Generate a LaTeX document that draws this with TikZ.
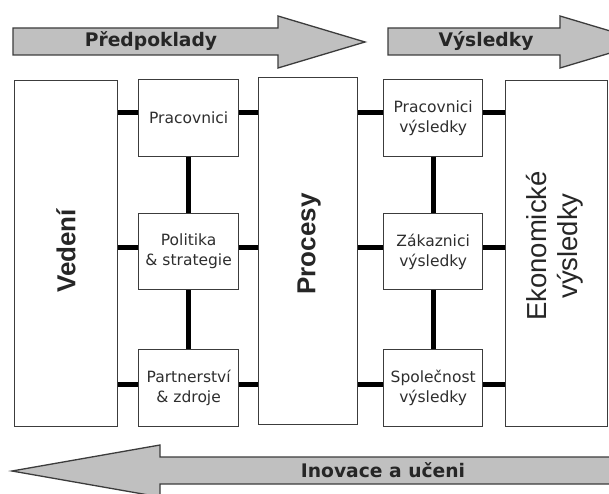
\documentclass[tikz,border=0pt]{standalone}
\usepackage{fontspec}
\setmainfont{DejaVu Sans}
\newfontfamily\arialf{Liberation Sans}
\definecolor{boxline}{HTML}{3C3C3C}
\definecolor{arrowfill}{HTML}{C0C0C0}
\definecolor{txtgray}{HTML}{2E2E2E}
\begin{document}
\begin{tikzpicture}[x=1pt,y=-1pt,
  box/.style={draw=boxline, line width=1.3pt, fill=white, inner sep=0pt, anchor=north west},
  bigbox/.style={box, minimum width=103pt, minimum height=346pt},
  smallbox/.style={box, minimum width=100pt, minimum height=77pt, align=center,
     text=txtgray, font=\fontsize{15.5}{20}\selectfont},
  link/.style={line width=5pt, black},
  bigarrow/.style={draw=boxline, line width=1.3pt, fill=arrowfill, line join=miter},
  arrowtext/.style={font=\bfseries\fontsize{18.7}{22}\selectfont, text=black!85},
  vlabel/.style={rotate=90, font=\arialf\bfseries\fontsize{26}{30}\selectfont, text=black!85}
]
\useasboundingbox (0,0) rectangle (609,494);
\fill[white] (0,0) rectangle (609,494);
\clip (0,0) rectangle (609,494);

% top arrows
\draw[bigarrow] (13,28) -- (278,28) -- (278,16) -- (365,42) -- (278,68) -- (278,55) -- (13,55) -- cycle;
\node[arrowtext] (pred) at (151,41) {Předpoklady};
\draw[bigarrow] (388,28) -- (560,28) -- (560,16) -- (647,42) -- (560,68) -- (560,55) -- (388,55) -- cycle;
\node[arrowtext] (vys) at (486,41) {Výsledky};

% bottom arrow
\draw[bigarrow] (640,457) -- (160,457) -- (160,445) -- (12,471) -- (160,497) -- (160,484) -- (640,484) -- cycle;
\node[arrowtext] (inov) at (383,470) {Inovace a učeni};

% big boxes
\node[bigbox] (ved) at (14,80) {};
\node[vlabel] (vedt) at (66,251) {Vedení};
\node[box, minimum width=99pt, minimum height=347pt] (proc) at (258,77) {};
\node[vlabel] (proct) at (309,244) {Procesy};
\node[bigbox, minimum width=102pt] (eko) at (505,80) {};
\node[rotate=90, align=center, font=\arialf\fontsize{27.5}{31}\selectfont, text=black!85] (ekot) at (555,246) {Ekonomické\\výsledky};

% left column
\node[smallbox] (prac) at (138,79) {Pracovnici};
\node[smallbox, minimum height=76pt] (pol) at (138,213) {Politika\\\& strategie};
\node[smallbox] (part) at (138,349) {Partnerství\\\& zdroje};

% right column
\node[smallbox, minimum width=99pt] (pvys) at (383,79) {Pracovnici\\výsledky};
\node[smallbox, minimum width=99pt, minimum height=76pt] (zak) at (383,213) {Zákaznici\\výsledky};
\node[smallbox, minimum width=99pt] (spol) at (383,349) {Společnost\\výsledky};

% horizontal links
\foreach \yy/\a/\b/\c/\d in {113/prac/pvys/x/x, 247/pol/zak/x/x, 384/part/spol/x/x}{
  \draw[link] (ved.east |- 0,\yy) -- (\a.west |- 0,\yy);
  \draw[link] (\a.east |- 0,\yy) -- (proc.west |- 0,\yy);
  \draw[link] (proc.east |- 0,\yy) -- (\b.west |- 0,\yy);
  \draw[link] (\b.east |- 0,\yy) -- (eko.west |- 0,\yy);
}
% vertical links
\draw[link] (prac.south) -- (pol.north);
\draw[link] (pol.south) -- (part.north);
\draw[link] (pvys.south) -- (zak.north);
\draw[link] (zak.south) -- (spol.north);
\end{tikzpicture}
\end{document}
